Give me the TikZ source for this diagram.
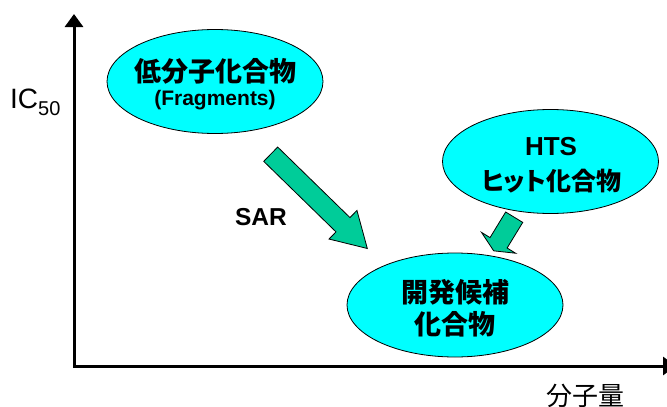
\documentclass[tikz,border=0pt]{standalone}
\usepackage{fontspec}
\setmainfont{Liberation Sans}
\newfontfamily\cjk{Noto Sans CJK JP}
\newfontfamily\cjkp{Noto Sans CJK JP}[RawFeature=+palt]
\usetikzlibrary{shapes.geometric,arrows.meta}
\definecolor{bubblecyan}{RGB}{0,255,255}
\definecolor{arrowgreen}{RGB}{0,204,153}
\tikzset{
  bubble/.style={ellipse, draw=black, line width=0.8pt, fill=bubblecyan,
    minimum width=216pt, minimum height=104pt, inner sep=0pt},
  jtext/.style={font=\cjk\bfseries\fontsize{27}{27}\selectfont, anchor=base, inner sep=0pt},
  jptext/.style={font=\cjkp\bfseries\fontsize{25}{25}\selectfont, anchor=base, inner sep=0pt},
  ltext/.style={font=\bfseries\fontsize{26}{26}\selectfont, anchor=base, inner sep=0pt},
  axisline/.style={line width=3pt, {Triangle[length=13pt,width=18pt]}-{Triangle[length=13pt,width=18pt]}},
  blockarrowstyle/.style={draw=black, line width=0.8pt, fill=arrowgreen, line join=miter}
}
% #1 tail centre, #2 angle, #3 total length, #4 head start
\newcommand{\blockarrow}[4]{%
  \begin{scope}[shift={#1}, rotate=#2]
    \draw[blockarrowstyle] (0,-10) -- (#4,-10) -- (#4,-20) -- (#3,0) -- (#4,20) -- (#4,10) -- (0,10) -- cycle;
  \end{scope}}
\begin{document}
\begin{tikzpicture}[x=1pt,y=-1pt]
\useasboundingbox (0,0) rectangle (667,407);
% axes
\coordinate (ytop) at (74,14);
\coordinate (origin) at (74,366);
\coordinate (xend) at (676,366);
\draw[axisline] (ytop) -- (origin) -- (xend);
\node[anchor=base west, inner sep=0pt, font=\fontsize{28}{28}\selectfont] (ylabel) at (10,108)
  {IC\raisebox{-7pt}{\fontsize{20}{20}\selectfont 50}};
\node[anchor=base, inner sep=0pt, font=\cjk\fontsize{26}{26}\selectfont] (xlabel) at (585,405) {分子量};
% bubbles
\node[bubble] (frag) at (215,81.5) {};
\node[bubble] (hts) at (550.5,161.5) {};
\node[bubble] (cand) at (455,305) {};
\node[jtext] (fragA) at (215,81) {低分子化合物};
\node[anchor=base, inner sep=0pt, font=\bfseries\fontsize{21}{21}\selectfont] (fragB) at (215,105) {(Fragments)};
\node[ltext] (htsA) at (551,155) {HTS};
\node[jptext] (htsB) at (551.5,190) {ヒット化合物};
\node[jtext] (candA) at (455,302) {開発候補};
\node[jtext] (candB) at (455,334) {化合物};
% block arrows
\blockarrow{(270.7,154.2)}{-44.3}{135}{101}
\blockarrow{(514.2,217.2)}{238.6}{39.4}{30}
\node[anchor=base, inner sep=0pt, font=\bfseries\fontsize{24.5}{24.5}\selectfont] (sar) at (261,225.7) {SAR};
\end{tikzpicture}
\end{document}
